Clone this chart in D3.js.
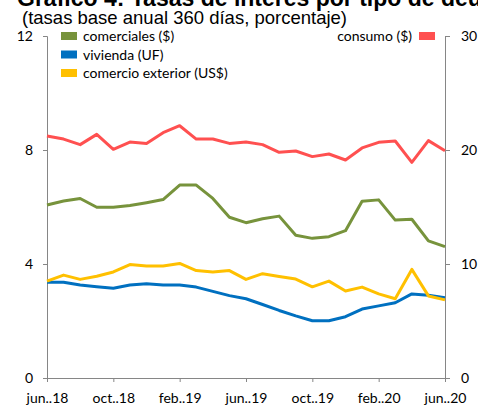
<!DOCTYPE html>
<html lang="es">
<head>
<meta charset="UTF-8">
<title>Tasas de interés por tipo de deudor</title>
<script src="https://cdn.jsdelivr.net/npm/d3@7"></script>
<style>
  body { margin: 0; background: #fff; }
  svg { display: block; }
  .axis path, .axis line { stroke: #868686; }
  .axis text { font-family: Lato, sans-serif; font-size: 14px; fill: #000; }
  .legend text { font-family: Lato, sans-serif; font-size: 14px; fill: #000; }
</style>
</head>
<body>
<div id="chart"></div>
<script>
  const months = ['jun..18','jul..18','ago..18','sep..18','oct..18','nov..18','dic..18','ene..19',
    'feb..19','mar..19','abr..19','may..19','jun..19','jul..19','ago..19','sep..19','oct..19',
    'nov..19','dic..19','ene..20','feb..20','mar..20','abr..20','may..20','jun..20']
  const tickMonths = ['jun..18','oct..18','feb..19','jun..19','oct..19','feb..20','jun..20']

  const comerciales = [6.07,6.21,6.30,5.99,5.99,6.05,6.15,6.26,6.77,6.77,6.30,5.64,5.45,5.59,5.68,
    5.01,4.90,4.96,5.17,6.20,6.25,5.54,5.57,4.81,4.61]
  const vivienda = [3.36,3.36,3.26,3.20,3.15,3.26,3.31,3.26,3.26,3.19,3.04,2.89,2.78,2.58,2.37,
    2.18,2.01,2.01,2.15,2.42,2.53,2.64,2.95,2.90,2.82]
  const comercioExterior = [3.40,3.61,3.46,3.57,3.72,3.98,3.93,3.93,4.02,3.77,3.72,3.77,3.46,3.66,3.56,
    3.47,3.20,3.40,3.05,3.19,2.95,2.78,3.81,2.88,2.74]
  // consumo va en el eje derecho
  const consumo = [21.23,20.96,20.47,21.37,20.06,20.70,20.58,21.52,22.13,20.96,20.96,20.58,20.70,20.47,
    19.80,19.91,19.42,19.65,19.12,20.18,20.67,20.79,18.92,20.82,19.94]

  const leftTicks = [0, 4, 8, 12]
  const rightTicks = [0, 10, 20, 30]

  const width = 478
  const height = 408

  const svg = d3.select('#chart').append('svg')
    .attr('width', width)
    .attr('height', height)

  // el titulo queda cortado arriba, como en el original
  svg.append('text')
    .attr('x', 17)
    .attr('y', 6)
    .style('font-family', '"Liberation Sans", Arial, sans-serif')
    .style('font-weight', 'bold')
    .style('font-size', '23px')
    .text('Gráfico 4: Tasas de interés por tipo de deudor')

  svg.append('text')
    .attr('x', 22)
    .attr('y', 24)
    .style('font-family', '"Liberation Sans", Arial, sans-serif')
    .style('font-size', '18.5px')
    .text('(tasas base anual 360 días, porcentaje)')

  const x = d3.scaleLinear()
    .domain([0, months.length - 1])
    .range([47, 445])

  const yL = d3.scaleLinear().domain([0, 12]).range([378, 36])
  const yR = d3.scaleLinear().domain([0, 30]).range([378, 36])

  svg.append('g')
    .attr('class', 'axis')
    .attr('transform', 'translate(47,0)')
    .call(d3.axisLeft(yL).tickValues(leftTicks).tickSize(4).tickPadding(10))

  svg.append('g')
    .attr('class', 'axis')
    .attr('transform', 'translate(445,0)')
    .call(d3.axisRight(yR).tickValues(rightTicks).tickSize(5).tickPadding(11))

  svg.append('g')
    .attr('class', 'axis')
    .attr('transform', 'translate(0,378)')
    .call(d3.axisBottom(x)
      .tickValues(tickMonths.map(m => months.indexOf(m)))
      .tickFormat(i => months[i])
      .tickSize(4)
      .tickPadding(11))

  svg.selectAll('.axis .domain').attr('stroke', '#868686')

  const series = [
    { name: 'comerciales ($)', values: comerciales, y: yL, color: '#77933C' },
    { name: 'vivienda (UF)', values: vivienda, y: yL, color: '#0070C0' },
    { name: 'comercio exterior (US$)', values: comercioExterior, y: yL, color: '#FFC000' },
    { name: 'consumo ($)', values: consumo, y: yR, color: '#FF5050' }
  ]

  series.forEach(s => {
    const line = d3.line()
      .x((d, i) => x(i))
      .y(d => s.y(d))
    svg.append('path')
      .datum(s.values)
      .attr('fill', 'none')
      .attr('stroke', s.color)
      .attr('stroke-width', 3)
      .attr('stroke-linejoin', 'round')
      .attr('d', line)
  })

  const legend = svg.append('g').attr('class', 'legend')

  const leftItems = legend.selectAll('g.left')
    .data(series.slice(0, 3))
    .enter()
    .append('g')
    .attr('transform', (d, i) => `translate(61, ${36 + i * 18.5})`)

  leftItems.append('rect')
    .attr('x', 0).attr('y', -4)
    .attr('width', 16).attr('height', 8)
    .attr('fill', d => d.color)

  leftItems.append('text')
    .attr('x', 22)
    .attr('y', 5)
    .text(d => d.name)

  const right = legend.append('g')
    .attr('transform', 'translate(419, 36)')

  right.append('rect')
    .attr('x', 0).attr('y', -4)
    .attr('width', 16).attr('height', 8)
    .attr('fill', series[3].color)

  right.append('text')
    .attr('x', -7)
    .attr('y', 5)
    .attr('text-anchor', 'end')
    .text(series[3].name)
</script>
</body>
</html>
